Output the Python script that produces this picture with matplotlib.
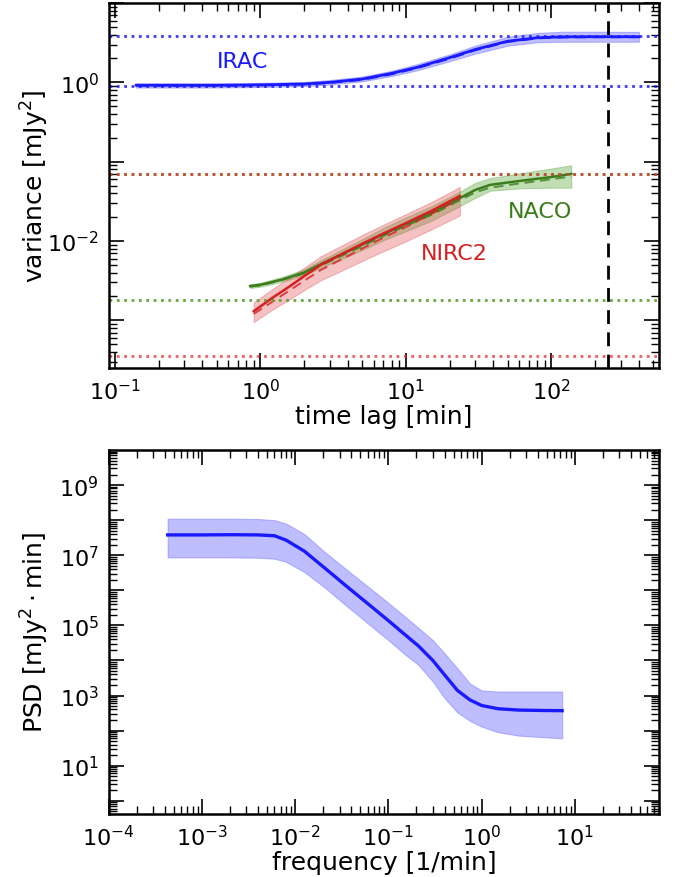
import numpy as np
import matplotlib
matplotlib.use("Agg")
import matplotlib.pyplot as plt
from matplotlib.ticker import LogLocator, NullFormatter, FixedLocator, FixedFormatter

# ---------------- data: top panel (structure function) ----------------
irac_lag = [0.14, 0.2, 0.3, 0.5, 0.8, 1.2, 2, 3, 5, 8, 12, 20, 30, 50, 80, 120, 200, 300, 400]
irac_var = [0.92, 0.92, 0.92, 0.92, 0.925, 0.935, 0.955, 1.0, 1.1, 1.3, 1.55, 2.05, 2.6, 3.3, 3.65, 3.75, 3.76, 3.76, 3.76]
irac_lo = [0.86, 0.86, 0.86, 0.86, 0.87, 0.88, 0.9, 0.94, 1.03, 1.2, 1.42, 1.85, 2.3, 2.9, 3.2, 3.25, 3.25, 3.25, 3.25]
irac_hi = [0.97, 0.97, 0.97, 0.97, 0.98, 0.99, 1.01, 1.07, 1.18, 1.4, 1.7, 2.25, 2.9, 3.75, 4.2, 4.35, 4.35, 4.33, 4.33]
irac_model = [0.91, 0.91, 0.91, 0.91, 0.915, 0.925, 0.945, 0.985, 1.08, 1.27, 1.52, 2.0, 2.55, 3.25, 3.6, 3.7, 3.72, 3.72, 3.72]

naco_lag = [0.85, 1.0, 1.4, 2.0, 2.6, 3.5, 5, 7, 10, 15, 23, 30, 38, 60, 100, 137]
naco_var = [2.7e-3, 2.8e-3, 3.25e-3, 4.0e-3, 5.1e-3, 6.6e-3, 9.0e-3, 0.0122, 0.0163, 0.0225, 0.034, 0.044, 0.051, 0.057, 0.064, 0.070]
naco_lo = [2.55e-3, 2.65e-3, 3.05e-3, 3.7e-3, 4.6e-3, 5.8e-3, 7.7e-3, 0.0102, 0.0133, 0.018, 0.027, 0.035, 0.043, 0.046, 0.047, 0.047]
naco_hi = [2.85e-3, 2.97e-3, 3.5e-3, 4.4e-3, 5.7e-3, 7.5e-3, 0.0105, 0.0146, 0.0198, 0.0275, 0.041, 0.054, 0.062, 0.071, 0.082, 0.09]
naco_model = [2.65e-3, 2.75e-3, 3.2e-3, 3.9e-3, 4.9e-3, 6.3e-3, 8.6e-3, 0.0116, 0.0155, 0.0213, 0.032, 0.041, 0.047, 0.053, 0.060, 0.065]

nirc2_lag = [0.9, 1.2, 1.6, 2.0, 2.6, 3.5, 5, 7, 10, 15, 23.5]
nirc2_var = [1.3e-3, 1.9e-3, 2.7e-3, 3.6e-3, 5.0e-3, 6.6e-3, 9.2e-3, 0.0124, 0.0168, 0.024, 0.037]
nirc2_lo = [9.5e-4, 1.35e-3, 1.85e-3, 2.4e-3, 3.2e-3, 4.1e-3, 5.6e-3, 7.4e-3, 9.9e-3, 0.014, 0.021]
nirc2_hi = [1.68e-3, 2.45e-3, 3.5e-3, 4.6e-3, 6.4e-3, 8.5e-3, 0.0119, 0.016, 0.0218, 0.031, 0.048]
nirc2_model = [1.2e-3, 1.7e-3, 2.4e-3, 3.15e-3, 4.3e-3, 5.7e-3, 8.0e-3, 0.011, 0.015, 0.022, 0.034]

irac_levels = [0.905, 3.82]
naco_levels = [1.8e-3, 0.070]
nirc2_levels = [3.5e-4, 0.069]
vline_lag = 244

top_yticks = [1e-3, 1e-2, 1e-1, 1e0, 1e1]
top_ylabels = ["", r"$10^{-2}$", "", r"$10^{0}$", ""]
top_xticks = [1e-1, 1e0, 1e1, 1e2]
top_xlabels = [r"$10^{-1}$", r"$10^{0}$", r"$10^{1}$", r"$10^{2}$"]

# ---------------- data: bottom panel (PSD) ----------------
freq = [4.3e-4, 1e-3, 2e-3, 4e-3, 6e-3, 8e-3, 0.0126, 0.02, 0.037, 0.06, 0.1, 0.15, 0.21,
        0.3, 0.4, 0.55, 0.75, 1.0, 1.5, 2.5, 4.5, 7.3]
psd = [3.8e7, 3.8e7, 3.85e7, 3.8e7, 3.6e7, 2.7e7, 1.3e7, 4.7e6, 1.2e6, 4.2e5, 1.37e5, 5.5e4, 2.6e4,
       1.0e4, 3.9e3, 1.4e3, 750, 520, 420, 385, 375, 370]
psd_lo = [8.7e6, 8.7e6, 8.7e6, 8.5e6, 8.0e6, 6.5e6, 3.3e6, 1.3e6, 3.3e5, 1.15e5, 3.8e4, 1.5e4, 7.5e3,
          2.5e3, 850, 330, 190, 130, 90, 72, 65, 60]
psd_hi = [1.1e8, 1.1e8, 1.1e8, 1.08e8, 1.0e8, 8.0e7, 4.0e7, 1.35e7, 3.6e6, 1.3e6, 4.4e5, 1.8e5, 8.5e4,
          3.8e4, 1.6e4, 6.0e3, 2.2e3, 1.4e3, 1.3e3, 1.3e3, 1.3e3, 1.3e3]

bot_yticks = [1e0, 1e1, 1e2, 1e3, 1e4, 1e5, 1e6, 1e7, 1e8, 1e9]
bot_ylabels = ["", r"$10^{1}$", "", r"$10^{3}$", "", r"$10^{5}$", "", r"$10^{7}$", "", r"$10^{9}$"]
bot_xticks = [1e-4, 1e-3, 1e-2, 1e-1, 1e0, 1e1]
bot_xlabels = [r"$10^{-4}$", r"$10^{-3}$", r"$10^{-2}$", r"$10^{-1}$", r"$10^{0}$", r"$10^{1}$"]

# ---------------- styling ----------------
BLUE = "#1a1aff"
BLUE_BAND = "#6f6fff"
GREEN = "#3a7d1a"
GREEN_BAND = "#5aa83a"
GREEN_DOT = "#5a9e2e"
RED = "#d42020"
RED_BAND = "#e05050"
RED_DOT = "#e03030"

plt.rcParams["font.family"] = ["DejaVu Sans"]
plt.rcParams["mathtext.fontset"] = "dejavusans"

fig = plt.figure(figsize=(6.83, 8.78), dpi=100)
ax1 = fig.add_axes([0.159, 0.5797, 0.806, 0.4157])
ax2 = fig.add_axes([0.159, 0.0718, 0.806, 0.4145])


def style_axes(ax, xticks, xlabels, yticks, ylabels):
    ax.set_xscale("log")
    ax.set_yscale("log")
    ax.xaxis.set_major_locator(FixedLocator(xticks))
    ax.xaxis.set_major_formatter(FixedFormatter(xlabels))
    ax.yaxis.set_major_locator(FixedLocator(yticks))
    ax.yaxis.set_major_formatter(FixedFormatter(ylabels))
    ax.xaxis.set_minor_locator(LogLocator(base=10, subs=np.arange(2, 10), numticks=30))
    ax.yaxis.set_minor_locator(LogLocator(base=10, subs=np.arange(2, 10), numticks=30))
    ax.xaxis.set_minor_formatter(NullFormatter())
    ax.yaxis.set_minor_formatter(NullFormatter())
    ax.tick_params(which="both", direction="in", top=True, right=True, labelsize=16)
    ax.tick_params(which="major", length=11, width=1.2, pad=7)
    ax.tick_params(which="minor", length=5.5, width=1.0)
    for s in ax.spines.values():
        s.set_linewidth(1.8)


# ---------------- top panel ----------------
ax1.fill_between(irac_lag, irac_lo, irac_hi, color=BLUE_BAND, alpha=0.45, lw=0.8)
ax1.plot(irac_lag, irac_var, color=BLUE, lw=2.0)
ax1.plot(irac_lag, irac_model, color=BLUE, lw=1.6, ls=(0, (5, 3)))

ax1.fill_between(naco_lag, naco_lo, naco_hi, color=GREEN_BAND, alpha=0.38, lw=0.8)
ax1.plot(naco_lag, naco_var, color=GREEN, lw=1.8)
ax1.plot(naco_lag, naco_model, color=GREEN, lw=1.4, ls=(0, (5, 3)), alpha=0.8)

ax1.fill_between(nirc2_lag, nirc2_lo, nirc2_hi, color=RED_BAND, alpha=0.35, lw=0.8)
ax1.plot(nirc2_lag, nirc2_var, color=RED, lw=1.8)
ax1.plot(nirc2_lag, nirc2_model, color=RED, lw=1.4, ls=(0, (5, 3)), alpha=0.8)

for lev in irac_levels:
    ax1.axhline(lev, color=BLUE, ls=":", lw=2.0, alpha=0.85)
for lev in naco_levels:
    ax1.axhline(lev, color=GREEN_DOT, ls=":", lw=2.0, alpha=0.9)
for lev in nirc2_levels:
    ax1.axhline(lev, color=RED_DOT, ls=":", lw=2.0, alpha=0.75)
ax1.axvline(vline_lag, color="black", ls=(0, (5, 3)), lw=2.0)

ax1.text(0.76, 1.84, "IRAC", color=BLUE, fontsize=16, ha="center", va="center")
ax1.text(83, 0.0236, "NACO", color=GREEN, fontsize=16, ha="center", va="center")
ax1.text(21.6, 0.00698, "NIRC2", color=RED, fontsize=16, ha="center", va="center")

style_axes(ax1, top_xticks, top_xlabels, top_yticks, top_ylabels)
ax1.set_xlim(0.0905, 550)
ax1.set_ylim(2.5e-4, 10)
ax1.set_xlabel("time lag [min]", fontsize=18, labelpad=1)
ax1.set_ylabel(r"variance [mJy$^2$]", fontsize=18)
ax1.yaxis.set_label_coords(-0.105, 0.5)

# ---------------- bottom panel ----------------
ax2.fill_between(freq, psd_lo, psd_hi, color=BLUE_BAND, alpha=0.45, lw=0.8)
ax2.plot(freq, psd, color=BLUE, lw=2.4)

style_axes(ax2, bot_xticks, bot_xlabels, bot_yticks, bot_ylabels)
ax2.set_xlim(1e-4, 80)
ax2.set_ylim(0.42, 1e10)
ax2.set_xlabel("frequency [1/min]", fontsize=18, labelpad=1)
ax2.set_ylabel(r"PSD [mJy$^2\cdot$min]", fontsize=18)
ax2.yaxis.set_label_coords(-0.105, 0.5)

fig.savefig("out.png", dpi=100)
